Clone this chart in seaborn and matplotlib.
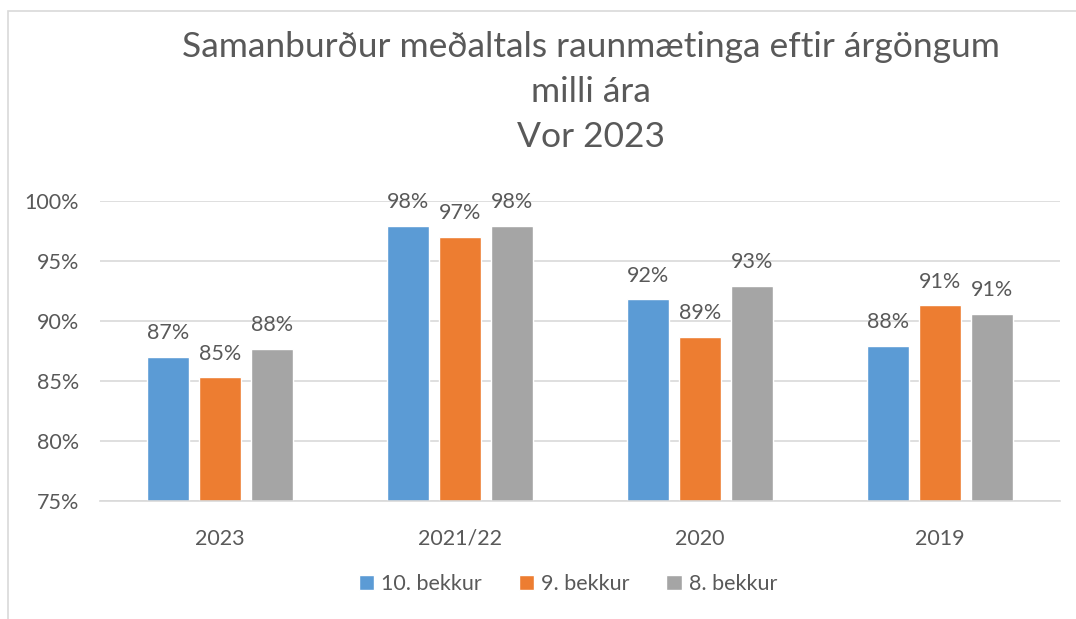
import pandas as pd
import seaborn as sns
import matplotlib.pyplot as plt
from matplotlib.patches import Rectangle

years = ['2023', '2021/22', '2020', '2019']
grades = ['10. bekkur', '9. bekkur', '8. bekkur']
bekkur_10 = [87.0, 97.9, 91.8, 87.9]
bekkur_9 = [85.3, 97.0, 88.7, 91.3]
bekkur_8 = [87.7, 97.9, 92.9, 90.6]
labels_10 = ['87%', '98%', '92%', '88%']
labels_9 = ['85%', '97%', '89%', '91%']
labels_8 = ['88%', '98%', '93%', '91%']
colors = ['#5B9BD5', '#ED7D31', '#A5A5A5']
text_color = '#595959'

df = pd.DataFrame({
    'ar': years * 3,
    'bekkur': [g for g in grades for _ in years],
    'gildi': bekkur_10 + bekkur_9 + bekkur_8,
})

sns.set_theme(style='white')
plt.rcParams['font.family'] = ['Lato', 'DejaVu Sans']

fig = plt.figure(figsize=(10.76, 6.19), dpi=100)
ax = fig.add_axes([0.093, 0.1906, 0.892, 0.4846])

sns.barplot(data=df, x='ar', y='gildi', hue='bekkur', order=years, hue_order=grades,
            palette=colors, width=0.65, gap=0.19, saturation=1, ax=ax, legend=True)

for container, labs in zip(ax.containers, [labels_10, labels_9, labels_8]):
    ax.bar_label(container, labels=labs, padding=10, fontsize=15.5, color=text_color)

ax.set_ylim(75, 100)
ax.set_xlim(-0.5, 3.5)
ax.set_yticks([75, 80, 85, 90, 95, 100])
ax.set_yticklabels([f'{v}%' for v in [75, 80, 85, 90, 95, 100]])
ax.yaxis.grid(True, color='#D9D9D9', linewidth=1.2)
ax.set_axisbelow(True)
for s in ['top', 'right', 'left']:
    ax.spines[s].set_visible(False)
ax.spines['bottom'].set_color('#D9D9D9')
ax.spines['bottom'].set_linewidth(1.2)
ax.tick_params(axis='both', labelsize=15.5, colors=text_color, length=0)
ax.tick_params(axis='y', pad=15)
ax.tick_params(axis='x', pad=20)
ax.set_xlabel('')
ax.set_ylabel('')

handles, labs = ax.get_legend_handles_labels()
ax.legend(handles, labs, loc='center', bbox_to_anchor=(0.528, 0.0565), bbox_transform=fig.transFigure,
          ncol=3, frameon=False, fontsize=15.5, handlelength=0.7, handleheight=0.7,
          handletextpad=0.35, columnspacing=1.7, labelcolor=text_color)

fig.text(0.549, 0.851, 'Samanburður meðaltals raunmætinga eftir árgöngum\nmilli ára\nVor 2023',
         ha='center', va='center', fontsize=25.5, color=text_color, linespacing=1.5)

fig.patches.append(Rectangle((8 / 1076, -0.1), 1.2, 1.1 - 11 / 619, transform=fig.transFigure,
                             fill=False, edgecolor='#D9D9D9', linewidth=1.2))

fig.savefig('out.png', dpi=100)
